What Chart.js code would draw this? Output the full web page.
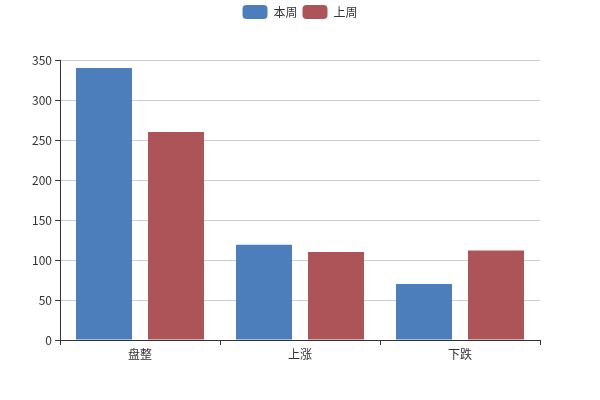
<!DOCTYPE html>
<html><head><meta charset="utf-8">
<script src="https://cdn.jsdelivr.net/npm/chart.js@4"></script>
<style>html,body{margin:0;padding:0;background:#fff}#wrap{width:600px;height:400px}</style>
</head><body><div id="wrap"><canvas id="c"></canvas></div>
<script>
const categories = ['盘整', '上涨', '下跌'];
const thisWeek = [340, 119, 70];
const lastWeek = [260, 110, 112];
const seriesNames = ['本周', '上周'];
const yTicks = [0, 50, 100, 150, 200, 250, 300, 350];

const FONT = '"Noto Sans CJK SC", "Noto Sans", sans-serif';
Chart.defaults.font.family = FONT;
Chart.defaults.font.size = 12;
Chart.defaults.color = '#333';

new Chart(document.getElementById('c'), {
  type: 'bar',
  data: {
    labels: categories,
    datasets: [
      { label: seriesNames[0], data: thisWeek, backgroundColor: '#4c7ebb', borderWidth: 0 },
      { label: seriesNames[1], data: lastWeek, backgroundColor: '#ad5458', borderWidth: 0 }
    ]
  },
  options: {
    responsive: true,
    maintainAspectRatio: false,
    animation: false,
    datasets: { bar: { categoryPercentage: 0.9, barPercentage: 0.778 } },
    layout: { padding: { left: 0, right: 0, top: 0, bottom: 0 } },
    plugins: {
      tooltip: { enabled: false },
      legend: {
        position: 'top',
        labels: {
          boxWidth: 25, boxHeight: 14, useBorderRadius: true, borderRadius: 4,
          padding: 5, color: '#333', font: { size: 12, family: FONT }
        }
      }
    },
    scales: {
      x: {
        offset: true,
        grid: { display: true, offset: true, drawOnChartArea: false, tickLength: 5, tickColor: '#333', tickWidth: 1 },
        border: { color: '#333', width: 1 },
        ticks: { padding: 2, color: '#333' },
        afterFit: s => { s.height = 60; }
      },
      y: {
        min: 0, max: 350,
        afterBuildTicks: s => { s.ticks = yTicks.map(v => ({ value: v })); },
        grid: { color: '#ccc', tickLength: 5, tickColor: '#333', drawTicks: true },
        border: { color: '#333', width: 1 },
        ticks: { padding: 3, color: '#333' },
        afterFit: s => { s.width = 60; }
      },
      yr: {
        position: 'right',
        display: true,
        min: 0, max: 350,
        grid: { display: false },
        border: { display: false },
        ticks: { display: false },
        afterFit: s => { s.width = 60; }
      },
      xt: {
        position: 'top',
        display: true,
        grid: { display: false },
        border: { display: false },
        ticks: { display: false },
        afterFit: s => { s.height = 60 - s.chart.legend.height; }
      }
    }
  }
});
</script></body></html>
